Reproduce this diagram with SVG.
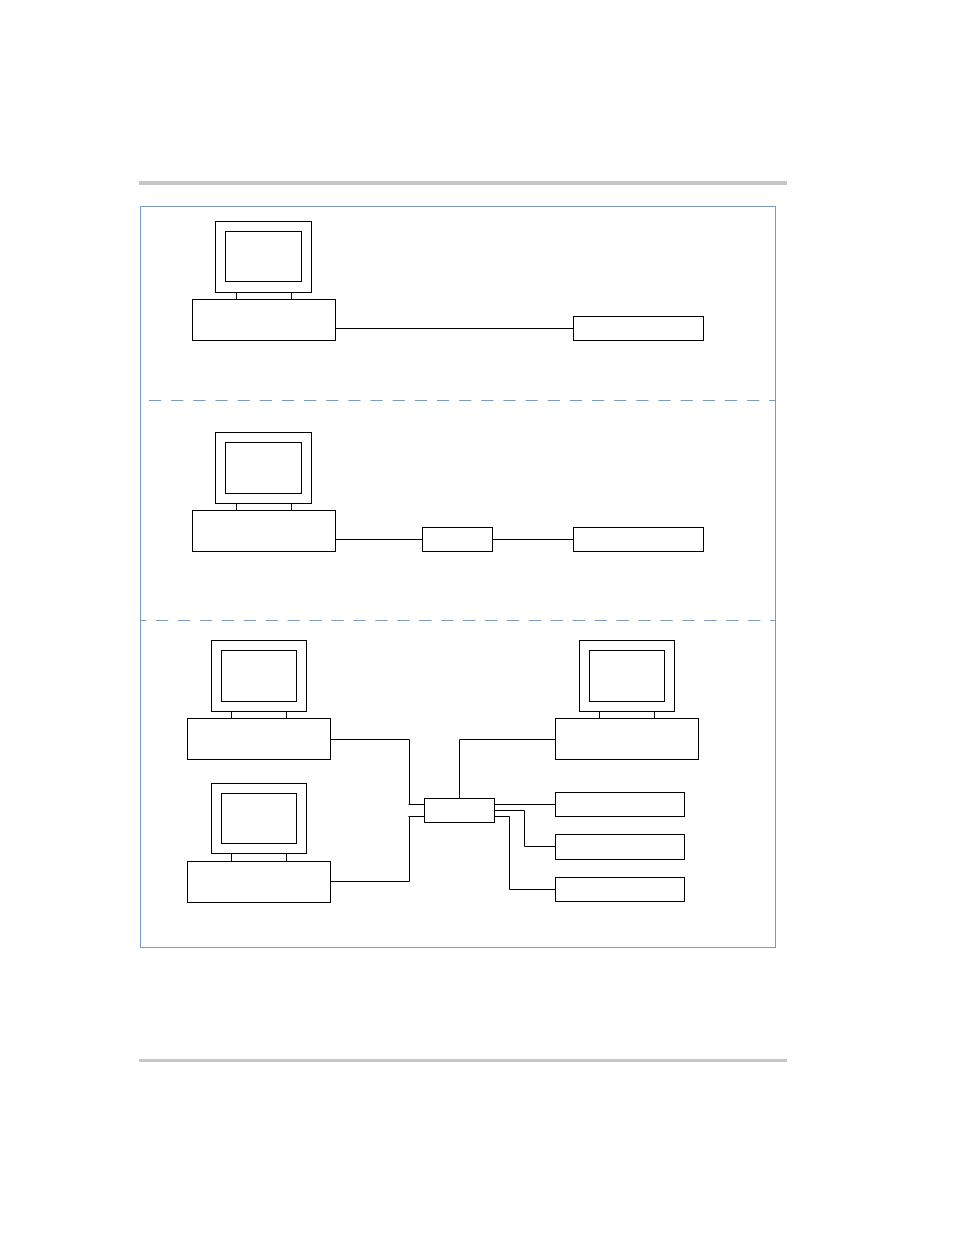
<svg xmlns="http://www.w3.org/2000/svg" width="954" height="1235" viewBox="0 0 954 1235">
<style>
.b{fill:#fff;stroke:#000;stroke-width:1}
.c{fill:none;stroke:#000;stroke-width:1}
.d{fill:none;stroke:#7a9bbe;stroke-width:1}
.r{fill:#c6c6c6}
</style>
<rect class="r" x="139" y="181" width="648" height="4"/>
<rect class="r" x="139" y="1059" width="648" height="3"/>
<rect id="frame" x="140.500" y="206.500" width="635" height="741" fill="#fff" stroke="#7a9bbe"/>
<path class="d" stroke-dasharray="12.2 9.95" d="M149 400.500H775"/>
<path class="d" stroke-dasharray="12.3 9.63" stroke-dashoffset="6.93" d="M141 620.500H775"/>
<g id="connectors">
<path class="c" d="M336 328.500H573"/>
<path class="c" d="M336 539.500H422"/>
<path class="c" d="M493 539.500H573"/>
<path class="c" d="M331 739.500H409.500V804"/>
<path class="c" d="M408.500 804.500H424"/>
<path class="c" d="M331 881.500H409.500V817"/>
<path class="c" d="M408.500 816.500H424"/>
<path class="c" d="M459.500 798V739.500H555"/>
<path class="c" d="M495 804.500H555"/>
<path class="c" d="M495 810.500H524.500V846.500H555"/>
<path class="c" d="M495 816.500H509.500V889.500H555"/>
</g>
<g id="pc1">
<rect class="b" x="215.500" y="221.500" width="96" height="71"/>
<rect class="b" x="225.500" y="231.500" width="76" height="50"/>
<rect class="b" x="236.500" y="292.500" width="55" height="7"/>
<rect class="b" x="192.500" y="299.500" width="143" height="41"/>
</g>
<g id="pc2">
<rect class="b" x="215.500" y="432.500" width="96" height="71"/>
<rect class="b" x="225.500" y="442.500" width="76" height="51"/>
<rect class="b" x="236.500" y="503.500" width="55" height="7"/>
<rect class="b" x="192.500" y="510.500" width="143" height="41"/>
</g>
<g id="pc3">
<rect class="b" x="211.500" y="640.500" width="95" height="71"/>
<rect class="b" x="221.500" y="650.500" width="75" height="51"/>
<rect class="b" x="231.500" y="711.500" width="55" height="7"/>
<rect class="b" x="187.500" y="718.500" width="143" height="41"/>
</g>
<g id="pc4">
<rect class="b" x="211.500" y="783.500" width="95" height="70"/>
<rect class="b" x="221.500" y="793.500" width="75" height="50"/>
<rect class="b" x="231.500" y="853.500" width="55" height="8"/>
<rect class="b" x="187.500" y="861.500" width="143" height="41"/>
</g>
<g id="pc5">
<rect class="b" x="579.500" y="640.500" width="95" height="71"/>
<rect class="b" x="589.500" y="650.500" width="75" height="51"/>
<rect class="b" x="599.500" y="711.500" width="55" height="7"/>
<rect class="b" x="555.500" y="718.500" width="143" height="41"/>
</g>
<g id="n1"><rect class="b" x="573.500" y="316.500" width="130" height="24"/></g>
<g id="n2"><rect class="b" x="422.500" y="527.500" width="70" height="24"/></g>
<g id="n3"><rect class="b" x="573.500" y="527.500" width="130" height="24"/></g>
<g id="hub"><rect class="b" x="424.500" y="798.500" width="70" height="24"/></g>
<g id="n4"><rect class="b" x="555.500" y="792.500" width="129" height="24"/></g>
<g id="n5"><rect class="b" x="555.500" y="834.500" width="129" height="25"/></g>
<g id="n6"><rect class="b" x="555.500" y="877.500" width="129" height="24"/></g>
</svg>
